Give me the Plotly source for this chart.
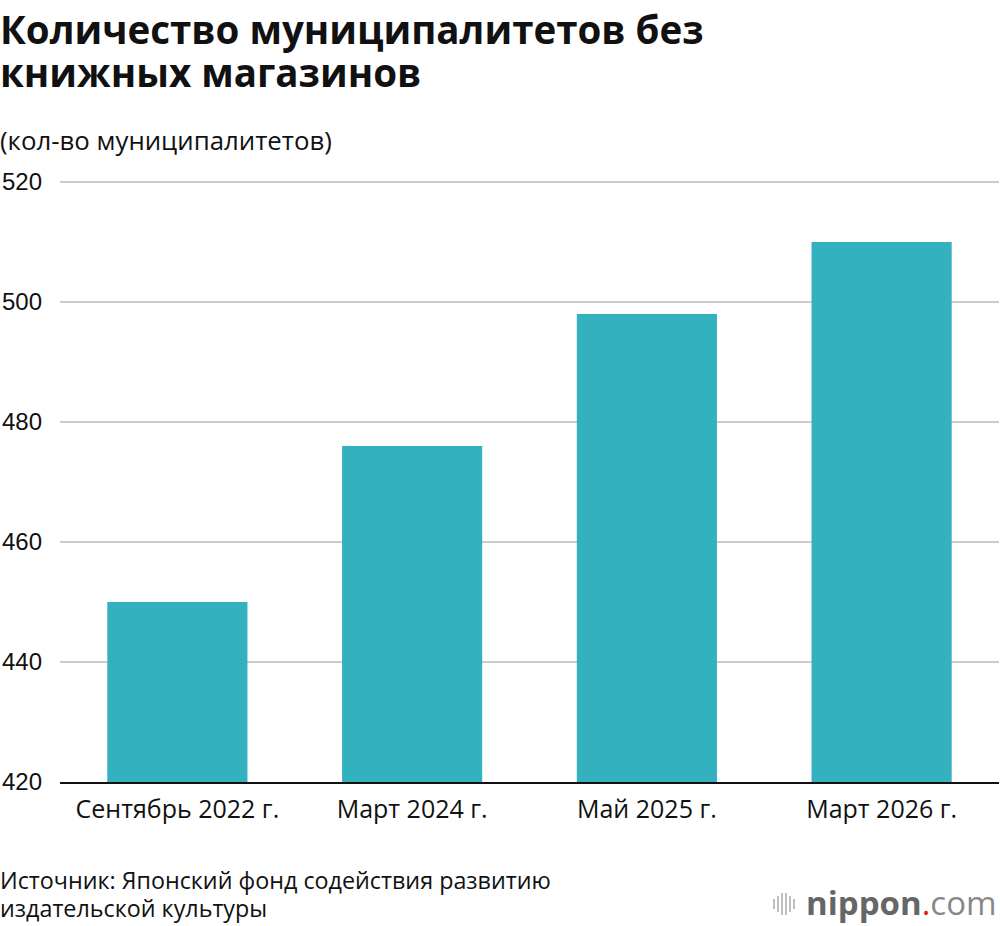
import plotly.graph_objects as go

categories = ["Сентябрь 2022 г.", "Март 2024 г.", "Май 2025 г.", "Март 2026 г."]
values = [450, 476, 498, 510]
y_ticks = [420, 440, 460, 480, 500, 520]

W, H = 1000, 926
ML, MR, MT, MB = 60, 1, 176, 144
PH = H - MT - MB
PW = W - ML - MR

fig = go.Figure(go.Bar(x=categories, y=values, marker_color="#34b1bf",
                       marker_line_width=0, hoverinfo="skip"))

fig.update_layout(
    width=W, height=H,
    margin=dict(l=ML, r=MR, t=MT, b=MB),
    paper_bgcolor="white", plot_bgcolor="white",
    bargap=0.403, showlegend=False,
    font=dict(family="Open Sans", color="#111"),
)
fig.update_yaxes(range=[420, 521], tickvals=y_ticks, showgrid=True, gridcolor="#cccccc",
                 gridwidth=1.5, zeroline=False, showline=False, ticks="",
                 tickfont=dict(family="Liberation Sans", size=24, color="#111"),
                 ticklabelstandoff=17)
fig.update_xaxes(showline=True, linecolor="#111", linewidth=2, ticks="",
                 tickfont=dict(family="Open Sans", size=25, color="#111"),
                 ticklabelstandoff=4)


def px_x(x):
    return (x - ML) / PW


def px_y(y):
    return (H - MB - y) / PH


texts = [
    ("<b>Количество муниципалитетов без</b>", 29, 38.5),
    ("<b>книжных магазинов</b>", 72, 38.5),
    ("(кол-во муниципалитетов)", 140, 25.8),
    ("Источник: Японский фонд содействия развитию", 880, 23.3),
    ("издательской культуры", 908, 23.3),
]
for t, yc, sz in texts:
    fig.add_annotation(text=t, xref="paper", yref="paper",
                       x=px_x(-1), y=px_y(yc), xanchor="left", yanchor="middle",
                       showarrow=False, borderpad=0,
                       font=dict(size=sz, family="Open Sans", color="#111"))

# logo
fig.add_annotation(
    text="<b>nippon</b><span style='color:#e0201b'>.</span><span style='color:#888'>com</span>",
    xref="paper", yref="paper", x=px_x(999), y=px_y(902),
    xanchor="right", yanchor="middle", showarrow=False,
    font=dict(size=33, family="Open Sans", color="#666"))
# logo bars icon
bar_heights = [10, 16, 22, 22, 16, 10]
for i, h in enumerate(bar_heights):
    x = 774 + i * 4
    fig.add_shape(type="line", xref="paper", yref="paper",
                  x0=px_x(x), x1=px_x(x),
                  y0=px_y(904 + h / 2), y1=px_y(904 - h / 2),
                  line=dict(color="#aaa", width=1.5))

fig.write_html("out.html")
